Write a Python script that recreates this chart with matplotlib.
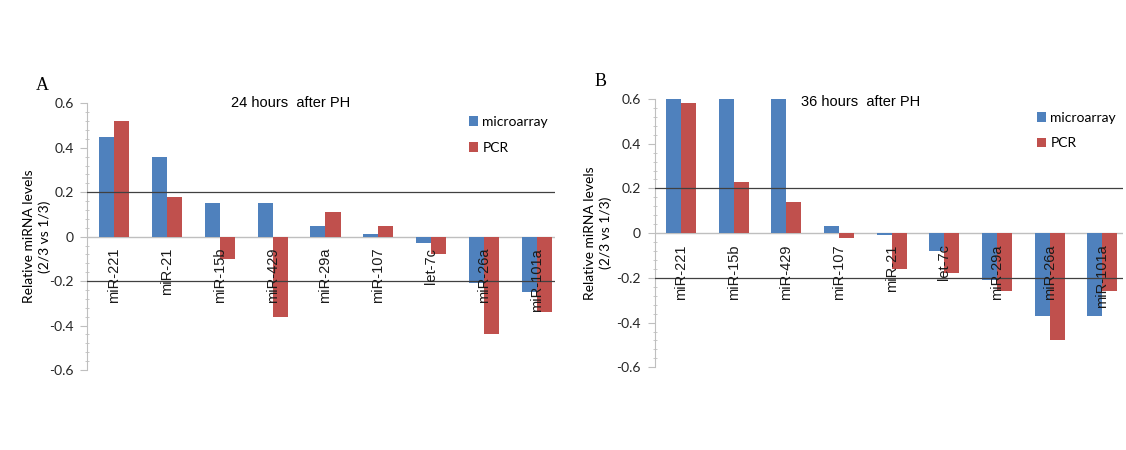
import numpy as np
import matplotlib
matplotlib.use("Agg")
import matplotlib.pyplot as plt
from matplotlib.ticker import MultipleLocator

# panel A: 24 h after PH
labels_24 = ["miR-221", "miR-21", "miR-15b", "miR-429", "miR-29a",
             "miR-107", "let-7c", "miR-26a", "miR-101a"]
micro_24 = [0.45, 0.36, 0.15, 0.15, 0.05, 0.01, -0.03, -0.21, -0.25]
pcr_24 = [0.52, 0.18, -0.10, -0.36, 0.11, 0.05, -0.08, -0.44, -0.34]

# panel B: 36 h after PH
labels_36 = ["miR-221", "miR-15b", "miR-429", "miR-107", "miR-21",
             "let-7c", "miR-29a", "miR-26a", "miR-101a"]
micro_36 = [0.60, 0.60, 0.60, 0.03, -0.01, -0.08, -0.21, -0.37, -0.37]
pcr_36 = [0.58, 0.23, 0.14, -0.02, -0.16, -0.18, -0.26, -0.48, -0.26]

BLUE = "#4f81bd"
RED = "#c0504d"
AXIS_GREY = "#bfbfbf"
SANS = "Liberation Sans"
OFFICE = "Lato"


def draw_panel(ax, labels, micro, pcr, title, letter, xmax, letter_xy, title_xy,
               ylabel_x):
    x = np.arange(len(labels))
    w = 0.285
    ax.bar(x - w / 2, micro, w, color=BLUE, label="microarray", zorder=2)
    ax.bar(x + w / 2, pcr, w, color=RED, label="PCR", zorder=2)

    ax.set_xlim(-0.5, xmax)
    ax.set_ylim(-0.6, 0.6)

    ax.axhline(0.2, color="#404040", lw=0.9, zorder=3)
    ax.axhline(-0.2, color="#404040", lw=0.9, zorder=3)
    ax.axhline(0, color=AXIS_GREY, lw=1.0, zorder=1)

    for s in ["top", "right", "bottom"]:
        ax.spines[s].set_visible(False)
    ax.spines["left"].set_color(AXIS_GREY)

    ax.yaxis.set_minor_locator(MultipleLocator(0.04))
    ax.set_yticks([-0.6, -0.4, -0.2, 0, 0.2, 0.4, 0.6])
    ax.set_yticklabels(["-0.6", "-0.4", "-0.2", "0", "0.2", "0.4", "0.6"],
                       fontfamily=OFFICE, fontsize=10, color="#262626")
    ax.tick_params(axis="y", which="major", length=5, color=AXIS_GREY, pad=5)
    ax.tick_params(axis="y", which="minor", length=3, color=AXIS_GREY,
                   direction="inout")
    ax.set_xticks([])

    for xi, lab in zip(x, labels):
        ax.text(xi, -0.05, lab, rotation=90, ha="center", va="top",
                fontsize=10.5, family=SANS, color="#1a1a1a", zorder=4)

    ax.text(title_xy[0], title_xy[1], title, ha="center", va="center",
            fontsize=10.5, family=SANS)
    ax.set_ylabel("Relative miRNA levels\n(2/3 vs 1/3)", fontsize=10,
                  family=OFFICE, linespacing=1.4)
    ax.yaxis.set_label_coords(ylabel_x, 0.5)

    ax.legend(loc="upper right", bbox_to_anchor=(1.012, 1.0), frameon=False,
              prop={"family": OFFICE, "size": 10}, handlelength=0.7,
              handleheight=0.7, handletextpad=0.3, labelspacing=1.0)

    ax.figure.text(letter_xy[0], letter_xy[1], letter, fontsize=13,
                   family="Liberation Serif")


fig = plt.figure(figsize=(11.26, 4.5), dpi=100)
ax1 = fig.add_axes([0.0777, 0.1778, 0.4152, 0.5926])
ax2 = fig.add_axes([0.5813, 0.1838, 0.4160, 0.5962])

draw_panel(ax1, labels_24, micro_24, pcr_24, "24 hours  after PH", "A", 8.34,
           (0.032, 0.8), (3.35, 0.6), -0.077)
draw_panel(ax2, labels_36, micro_36, pcr_36, "36 hours  after PH", "B", 8.39,
           (0.528, 0.81), (3.41, 0.585), -0.09)

fig.savefig("out.png", dpi=100, facecolor="white")
